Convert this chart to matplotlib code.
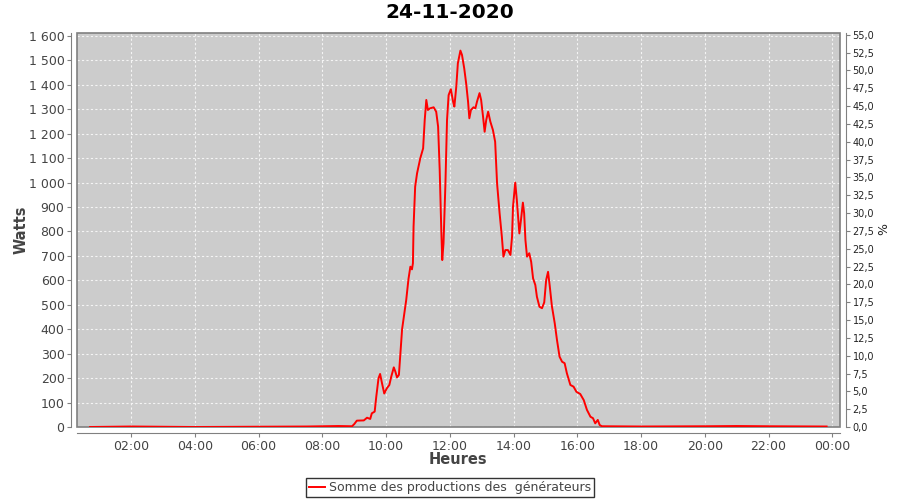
import matplotlib
matplotlib.use("Agg")
import matplotlib.pyplot as plt
from matplotlib.patches import Rectangle
from matplotlib.ticker import FixedLocator, FuncFormatter

# ---- data (time in decimal hours, power in watts) ----
hours = [0.71, 2.0, 4.0, 6.0, 7.5, 8.0, 8.5, 8.93, 9.00, 9.08, 9.30, 9.40, 9.50,
         9.55, 9.64, 9.69, 9.76, 9.81, 9.87, 9.94, 10.02, 10.10, 10.16, 10.24,
         10.29, 10.34, 10.40, 10.44, 10.50, 10.57, 10.63, 10.70, 10.76, 10.81,
         10.84, 10.86, 10.91, 10.97, 11.07, 11.16, 11.21, 11.26, 11.31, 11.38,
         11.49, 11.57, 11.63, 11.68, 11.73, 11.76, 11.80, 11.86, 11.91, 11.96,
         12.03, 12.10, 12.14, 12.20, 12.25, 12.33, 12.38, 12.45, 12.51, 12.57,
         12.61, 12.66, 12.74, 12.80, 12.85, 12.93, 12.98, 13.04, 13.09, 13.14,
         13.20, 13.27, 13.35, 13.42, 13.48, 13.56, 13.63, 13.68, 13.74, 13.82,
         13.90, 13.95, 13.98, 14.05, 14.10, 14.18, 14.23, 14.29, 14.33, 14.37,
         14.42, 14.49, 14.55, 14.61, 14.68, 14.73, 14.81, 14.89, 14.96, 15.02,
         15.08, 15.13, 15.20, 15.29, 15.36, 15.44, 15.52, 15.60, 15.67, 15.78,
         15.88, 15.97, 16.09, 16.20, 16.30, 16.41, 16.49, 16.56, 16.64, 16.70,
         16.77, 18.0, 20.0, 21.0, 22.0, 23.82]
watts = [0, 2, 0, 1, 2, 3, 4, 3, 12, 26, 27, 38, 33,
         56, 63, 124, 199, 217, 179, 137, 158, 172, 206, 244,
         226, 203, 213, 288, 400, 465, 520, 605, 656, 645,
         670, 820, 983, 1038, 1099, 1140, 1256, 1338, 1297, 1304,
         1308, 1290, 1229, 1052, 806, 683, 752, 997, 1256, 1358,
         1382, 1331, 1311, 1392, 1488, 1540, 1522, 1467, 1406, 1331,
         1263, 1297, 1308, 1304, 1331, 1366, 1338, 1270, 1208, 1256,
         1290, 1249, 1215, 1167, 997, 874, 779, 697, 724, 724,
         704, 779, 901, 1000, 929, 792, 847, 918, 874, 765,
         697, 711, 676, 608, 581, 533, 492, 486, 510, 601,
         635, 580, 495, 424, 356, 288, 267, 261, 220, 172,
         165, 144, 135, 110, 70, 42, 36, 15, 29, 8,
         3, 2, 3, 4, 3, 2]

title = "24-11-2020"
series_name = "Somme des productions des  générateurs"
x_ticks = [2, 4, 6, 8, 10, 12, 14, 16, 18, 20, 22, 24]
y_ticks = list(range(0, 1601, 100))
pct_ticks = [i * 2.5 for i in range(23)]

GRAY = "#808080"
TXT = "#444444"

plt.rcParams['font.family'] = ['DejaVu Sans']
fig = plt.figure(figsize=(9, 5), dpi=100)
ax = fig.add_axes([77 / 900, 73 / 500, 763 / 900, 394 / 500])
ax.set_facecolor("#cccccc")
ax.add_patch(Rectangle((0, 0), 1, 1, transform=ax.transAxes, fill=False,
                       ec=GRAY, lw=1.2, clip_on=False, zorder=2.5))
ax.plot(hours, watts, color="#ff0000", lw=1.4, zorder=4)
ax.set_xlim(0.3, 24.24)
ax.set_ylim(0, 1612)

ax.xaxis.set_major_locator(FixedLocator(x_ticks))
ax.xaxis.set_major_formatter(FuncFormatter(lambda v, p: "%02d:00" % (int(round(v)) % 24)))
ax.yaxis.set_major_locator(FixedLocator(y_ticks))
ax.yaxis.set_major_formatter(FuncFormatter(
    lambda v, p: ("{:,}".format(int(v))).replace(",", " ")))
ax.grid(True, color="#f4f4f4", ls=(0, (2, 2)), lw=0.8)
ax.set_axisbelow(True)

for s in ["top", "right"]:
    ax.spines[s].set_visible(False)
for s in ["left", "bottom"]:
    ax.spines[s].set_position(("outward", 4))
    ax.spines[s].set_color(GRAY)
ax.tick_params(axis="both", direction="out", length=3, width=0.8, color=GRAY,
               labelsize=9, labelcolor=TXT, pad=2)

ax2 = ax.twinx()
ax2.set_ylim(0, 55.24)
ax2.yaxis.set_major_locator(FixedLocator(pct_ticks))
ax2.yaxis.set_major_formatter(FuncFormatter(lambda v, p: ("%.1f" % v).replace(".", ",")))
for s in ["top", "left", "bottom"]:
    ax2.spines[s].set_visible(False)
ax2.spines["right"].set_position(("outward", 4))
ax2.spines["right"].set_color(GRAY)
ax2.tick_params(axis="y", direction="out", length=3, width=0.8, color=GRAY,
                labelsize=7, labelcolor="#222222", pad=2)

fig.text(0.5, 1 - 13 / 500, title, ha="center", va="center",
         fontsize=14.5, fontweight="bold", color="#000000")
fig.text(21 / 900, 1 - 230 / 500, "Watts", rotation=90, ha="center", va="center",
         fontsize=10.5, fontweight="bold", color=TXT)
fig.text(458 / 900, 1 - 460 / 500, "Heures", ha="center", va="center",
         fontsize=10.5, fontweight="bold", color=TXT)
fig.text(884 / 900, 1 - 229 / 500, "%", rotation=90, ha="center", va="center",
         fontsize=9, color="#222222")

leg = fig.legend([ax.lines[0]], [series_name], loc="center",
                 bbox_to_anchor=(450 / 900, 1 - 487.5 / 500), frameon=True,
                 fancybox=False, edgecolor="#000000", fontsize=9,
                 handlelength=1.3, handletextpad=0.3, borderpad=0.25,
                 borderaxespad=0)
leg.get_frame().set_linewidth(1.0)
for t in leg.get_texts():
    t.set_color(TXT)

fig.savefig("out.png", dpi=100)
